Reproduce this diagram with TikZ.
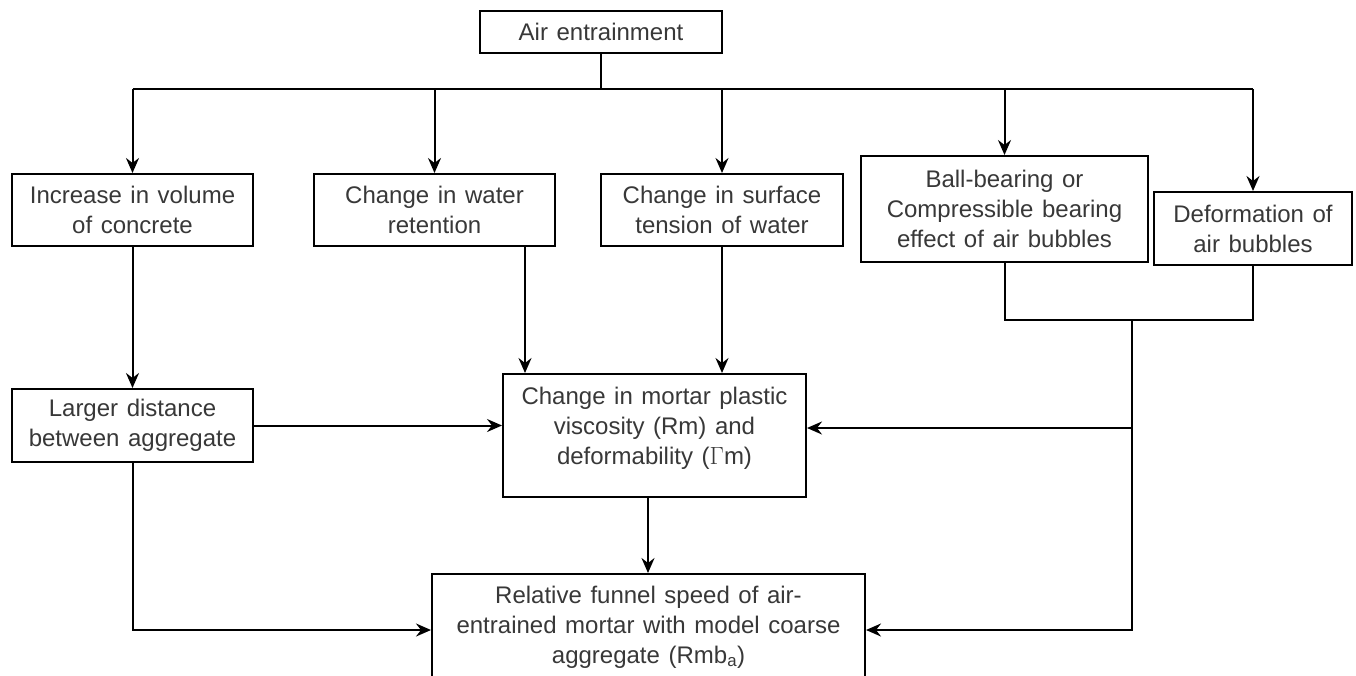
\documentclass[tikz,border=0pt]{standalone}
\usepackage{fontspec}
\setmainfont{Liberation Sans}
\usetikzlibrary{arrows.meta}
\definecolor{txtgray}{HTML}{383838}
\newcommand\widesp{\spaceskip=8.6pt plus 2pt minus 1pt\relax}
\begin{document}
\begin{tikzpicture}[x=1pt,y=-1pt,
  box/.style={draw=black, line width=2pt, inner sep=0pt, align=center,
    text=txtgray, font=\fontsize{24}{30}\selectfont\widesp},
  link/.style={draw=black, line width=2pt},
  arr/.style={link, -{Stealth[length=15pt,width=13pt,inset=5pt]}}]
\useasboundingbox (0,0) rectangle (1356,675);
\clip (0,0) rectangle (1356,675);
\fill[white] (0,0) rectangle (1356,675);

\node[box, minimum width=242pt, minimum height=42pt] (top) at (601,32) {Air entrainment};
\node[box, minimum width=241pt, minimum height=72pt] (b1) at (132.5,210) {Increase in volume\\of concrete};
\node[box, minimum width=241pt, minimum height=72pt] (b2) at (434.5,210) {Change in water\\retention};
\node[box, minimum width=242pt, minimum height=72pt] (b3) at (722,210) {Change in surface\\tension of water};
\node[box, minimum width=287pt, minimum height=106pt] (b4) at (1004.5,209) {Ball-bearing or\\Compressible bearing\\effect of air bubbles};
\node[box, minimum width=198pt, minimum height=73pt] (b5) at (1253,228.5) {Deformation of\\air bubbles};
\node[box, minimum width=241pt, minimum height=73pt] (lg) at (132.5,425.5) {Larger distance\\between aggregate};
\node[box, minimum width=303pt, minimum height=123pt] (mid) at (654.5,435.5)
  {\parbox[c][123pt][t]{300pt}{\centering\widesp\vspace*{9pt}\strut Change in mortar plastic\\
   \strut viscosity (Rm) and\\ \strut deformability ($\Gamma$m)}};
\node[box, minimum width=433pt, minimum height=106pt] (bot) at (648.5,627)
  {Relative funnel speed of air-\\entrained mortar with model coarse\\aggregate (Rmb\textsubscript{a})};

% top distribution bus
\coordinate (j0) at (601,89);
\draw[link] (top.south) -- (j0);
\draw[link] (b1.north |- j0) -- (b5.north |- j0);
\foreach \n in {b1,b2,b3,b4,b5}
  \draw[arr] (\n.north |- j0) -- (\n.north);

% left column
\draw[arr] (b1.south) -- (lg.north);
\draw[arr] (lg.east) -- (lg.east -| mid.west);
\draw[arr] (lg.south) |- ([yshift=-3pt]bot.west);

% into mid box from top
\coordinate (c2) at (525,374);
\draw[arr] (b2.south -| c2) -- (mid.north -| c2);
\draw[arr] (b3.south) -- (b3.south |- mid.north);

% right merge
\coordinate (j1) at (1132,320);
\draw[link] (b4.south) |- (b5.south |- j1) -- (b5.south);
\coordinate (j2) at (1132,428);
\draw[link] (j1) -- (j1 |- bot.west);
\draw[arr] (j2) -- (j2 -| mid.east);
\draw[arr] (j1) |- ([yshift=-3pt]bot.east);

% mid to bottom
\draw[arr] ([xshift=-6.5pt]mid.south) -- ([xshift=-6.5pt]mid.south |- bot.north);
\end{tikzpicture}
\end{document}
